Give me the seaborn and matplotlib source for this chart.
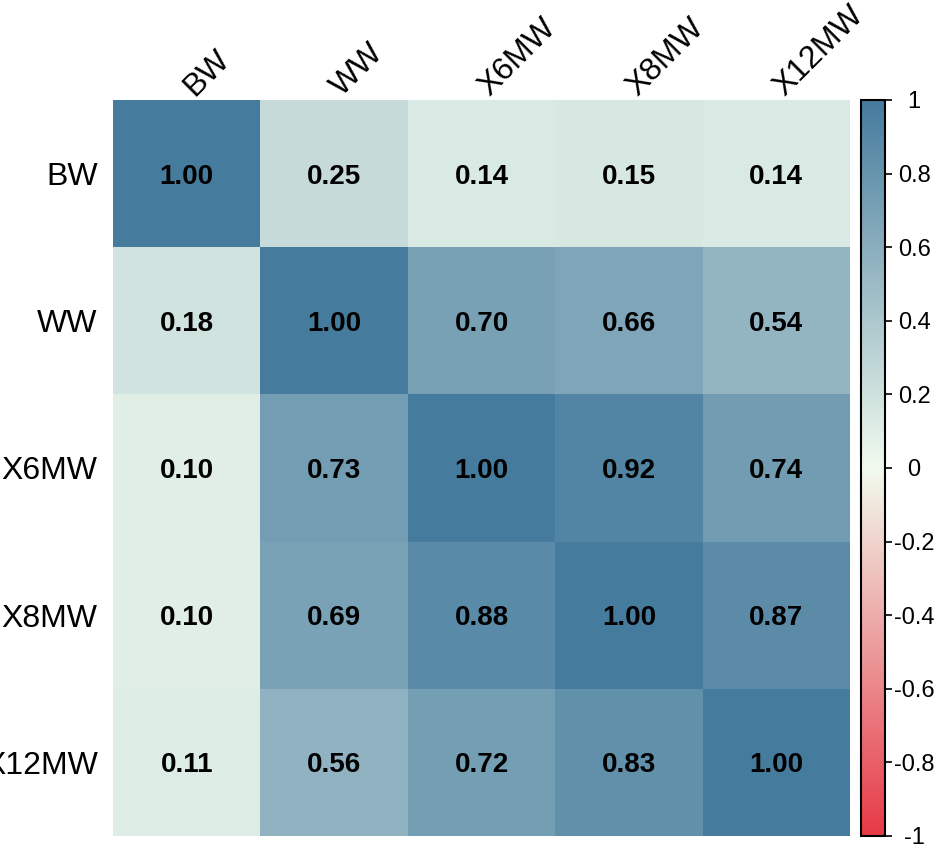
import matplotlib
matplotlib.use("Agg")
import matplotlib.pyplot as plt
import matplotlib.transforms as mtransforms
import seaborn as sns
import numpy as np
import pandas as pd
from matplotlib.colors import LinearSegmentedColormap

variables = ["BW", "WW", "X6MW", "X8MW", "X12MW"]
row_bw = [1.00, 0.25, 0.14, 0.15, 0.14]
row_ww = [0.18, 1.00, 0.70, 0.66, 0.54]
row_x6 = [0.10, 0.73, 1.00, 0.92, 0.74]
row_x8 = [0.10, 0.69, 0.88, 1.00, 0.87]
row_x12 = [0.11, 0.56, 0.72, 0.83, 1.00]
cbar_ticks = [-1, -0.8, -0.6, -0.4, -0.2, 0, 0.2, 0.4, 0.6, 0.8, 1]
cbar_labels = ["-1", "-0.8", "-0.6", "-0.4", "-0.2", "0", "0.2", "0.4", "0.6", "0.8", "1"]

df = pd.DataFrame([row_bw, row_ww, row_x6, row_x8, row_x12], index=variables, columns=variables)

sns.set_theme(style="white")
plt.rcParams["font.family"] = ["Liberation Sans", "DejaVu Sans"]
plt.rcParams["axes.unicode_minus"] = False
plt.rcParams["text.color"] = "black"
plt.rcParams["xtick.color"] = "black"
plt.rcParams["ytick.color"] = "black"

cmap = LinearSegmentedColormap.from_list("corr", ["#E63946", "#F1FAEE", "#457B9D"], N=256)

W, H = 935, 848
fig = plt.figure(figsize=(W / 100, H / 100), dpi=100)
ax = fig.add_axes([113 / W, (H - 836) / H, (850 - 113) / W, (836 - 100) / H])
cax = fig.add_axes([861 / W, (H - 836) / H, (885 - 861) / W, (836 - 100) / H])

sns.heatmap(df, ax=ax, cbar_ax=cax, cmap=cmap, vmin=-1, vmax=1,
            annot=True, fmt=".2f",
            annot_kws={"fontsize": 20, "fontweight": "bold", "color": "black",
                       "va": "center_baseline"},
            square=False, linewidths=0)

ax.tick_params(axis="both", length=0)
ax.set_xlabel("")
ax.set_ylabel("")
ax.xaxis.tick_top()
ax.set_xticks(np.arange(len(variables)) + 0.5)
ax.set_xticklabels(variables, rotation=45, ha="left", va="baseline",
                   rotation_mode="anchor", fontsize=23, color="black")
ax.tick_params(axis="x", pad=2)
offset = mtransforms.ScaledTranslation(0.08, 0.0, fig.dpi_scale_trans)
for t in ax.get_xticklabels():
    t.set_transform(t.get_transform() + offset)
ax.set_yticklabels(variables, rotation=0, fontsize=23, color="black", va="center_baseline")
ax.tick_params(axis="y", pad=11)

cbar = ax.collections[0].colorbar
cbar.set_ticks(cbar_ticks)
cbar.set_ticklabels(cbar_labels)
cbar.outline.set_edgecolor("black")
cbar.outline.set_linewidth(1.5)
cax.tick_params(axis="y", length=5, width=1.2, color="black", pad=16, labelsize=17,
                labelcolor="black", right=True)
for t in cax.get_yticklabels():
    t.set_ha("center")

fig.savefig("out.png", dpi=100)
